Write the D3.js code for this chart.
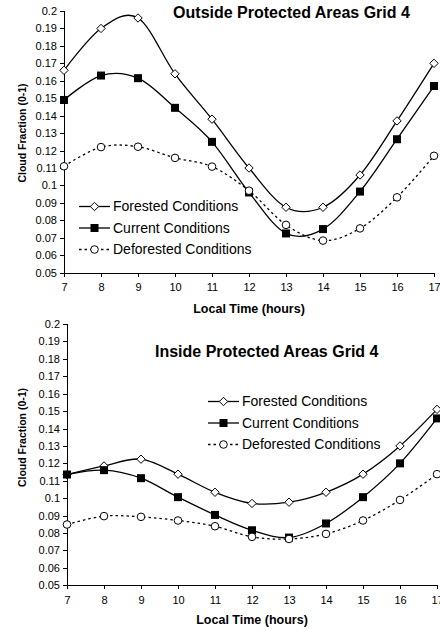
<!doctype html>
<html lang="en">
<head>
	<meta charset="utf-8">
	<title>Cloud Fraction Grid 4</title>
	<script type="text/javascript" src="https://d3js.org/d3.v7.min.js"></script>
	<style>
		body { margin: 0; background: white; }
		text { font-family: "Liberation Sans", Arial, sans-serif; fill: black; }
		.axis path, .axis line { stroke: black; stroke-width: 1; shape-rendering: crispEdges; }
		.axis text { font-size: 11px; }
	</style>
</head>
<body>
	<script type="text/javascript">
		var width = 440;
		var height = 631;

		// data
		var hours = [7, 8, 9, 10, 11, 12, 13, 14, 15, 16, 17];
		var yTicks = [0.05, 0.06, 0.07, 0.08, 0.09, 0.1, 0.11, 0.12, 0.13, 0.14, 0.15, 0.16, 0.17, 0.18, 0.19, 0.2];
		var seriesNames = ["Forested Conditions", "Current Conditions", "Deforested Conditions"];

		var outForested   = [0.166, 0.190, 0.196, 0.164, 0.138, 0.110, 0.0875, 0.0875, 0.106, 0.137, 0.170];
		var outCurrent    = [0.149, 0.163, 0.1615, 0.1445, 0.125, 0.096, 0.0725, 0.075, 0.0965, 0.1265, 0.157];
		var outDeforested = [0.111, 0.122, 0.1222, 0.1158, 0.1108, 0.097, 0.0774, 0.0684, 0.0754, 0.0932, 0.117];

		var inForested   = [0.1135, 0.1185, 0.1224, 0.1138, 0.1034, 0.097, 0.0977, 0.1034, 0.1138, 0.130, 0.151];
		var inCurrent    = [0.1136, 0.1161, 0.1115, 0.1006, 0.0904, 0.0816, 0.0774, 0.0855, 0.1006, 0.120, 0.1458];
		var inDeforested = [0.0849, 0.0897, 0.0893, 0.0872, 0.0839, 0.0778, 0.0766, 0.0795, 0.0872, 0.099, 0.1138];

		var svg = d3.select("body")
			.append("svg")
			.attr("width", width)
			.attr("height", height)
			.style("background", "white");

		//draw one panel
		function drawPanel(opt) {
			var x = d3.scaleLinear().domain([7, 17]).range([opt.left, opt.right]);
			var y = d3.scaleLinear().domain([0.05, 0.2]).range([opt.bottom, opt.top]);

			var g = svg.append("g");

			g.append("g")
				.attr("class", "axis")
				.attr("transform", "translate(" + opt.left + ",0)")
				.call(d3.axisLeft(y).tickValues(yTicks).tickSize(4).tickPadding(3)
					.tickFormat(function(d) { return String(+d.toFixed(2)); }));

			g.append("g")
				.attr("class", "axis")
				.attr("transform", "translate(0," + opt.bottom + ")")
				.call(d3.axisBottom(x).tickValues(hours).tickSize(4).tickPadding(7)
					.tickFormat(d3.format("d")));

			var line = d3.line()
				.x(function(d, i) { return x(hours[i]); })
				.y(function(d) { return y(d); })
				.curve(d3.curveCatmullRom.alpha(0));

			var series = [opt.forested, opt.current, opt.deforested];
			series.forEach(function(s, k) {
				g.append("path")
					.attr("d", line(s))
					.attr("fill", "none")
					.attr("stroke", "black")
					.attr("stroke-width", 1.3)
					.attr("stroke-dasharray", k == 2 ? "2.5,3" : null);
			});

			// markers
			series.forEach(function(s, k) {
				s.forEach(function(v, i) {
					marker(g, k, x(hours[i]), y(v));
				});
			});

			// titles
			g.append("text")
				.attr("x", opt.titleX)
				.attr("y", opt.titleY)
				.attr("text-anchor", "middle")
				.style("font-size", "16px")
				.style("font-weight", "bold")
				.text(opt.title);

			g.append("text")
				.attr("x", (opt.left + opt.right) / 2)
				.attr("y", opt.xTitleY)
				.attr("text-anchor", "middle")
				.style("font-size", "12.5px")
				.style("font-weight", "bold")
				.text("Local Time (hours)");

			g.append("text")
				.attr("transform", "translate(26," + opt.yTitleY + ") rotate(-90)")
				.attr("text-anchor", "middle")
				.style("font-size", "10.5px")
				.style("font-weight", "bold")
				.text("Cloud Fraction (0-1)");

			// legend
			var legend = g.selectAll(".leg")
				.data(seriesNames)
				.enter()
				.append("g")
				.attr("transform", function(d, i) {
					return "translate(" + opt.legX + "," + (opt.legY + i * 21.5) + ")";
				});

			legend.append("line")
				.attr("x1", 0).attr("x2", 31)
				.attr("stroke", "black")
				.attr("stroke-width", 1.3)
				.attr("stroke-dasharray", function(d, i) { return i == 2 ? "2.5,3" : null; });

			legend.each(function(d, i) { marker(d3.select(this), i, 15.5, 0); });

			legend.append("text")
				.attr("x", 34)
				.attr("dy", "0.35em")
				.style("font-size", "14px")
				.text(function(d) { return d; });
		}

		function marker(sel, k, cx, cy) {
			if (k == 0) {
				sel.append("path")
					.attr("d", "M" + cx + "," + (cy - 4.2) + "L" + (cx + 4.2) + "," + cy + "L" + cx + "," + (cy + 4.2) + "L" + (cx - 4.2) + "," + cy + "Z")
					.attr("fill", "white").attr("stroke", "black").attr("stroke-width", 1);
			} else if (k == 1) {
				sel.append("rect")
					.attr("x", cx - 4).attr("y", cy - 4)
					.attr("width", 8).attr("height", 8)
					.attr("fill", "black");
			} else {
				sel.append("circle")
					.attr("cx", cx).attr("cy", cy).attr("r", 3.8)
					.attr("fill", "white").attr("stroke", "black").attr("stroke-width", 1);
			}
		}

		drawPanel({
			left: 64, right: 434, top: 11, bottom: 272.7,
			forested: outForested, current: outCurrent, deforested: outDeforested,
			title: "Outside Protected Areas Grid 4", titleX: 291.5, titleY: 18,
			xTitleY: 313, yTitleY: 133,
			legX: 79, legY: 206.5
		});

		drawPanel({
			left: 67, right: 437, top: 324, bottom: 585.3,
			forested: inForested, current: inCurrent, deforested: inDeforested,
			title: "Inside Protected Areas Grid 4", titleX: 266.7, titleY: 357,
			xTitleY: 624, yTitleY: 437.5,
			legX: 208, legY: 401.5
		});
	</script>
</body>
</html>
